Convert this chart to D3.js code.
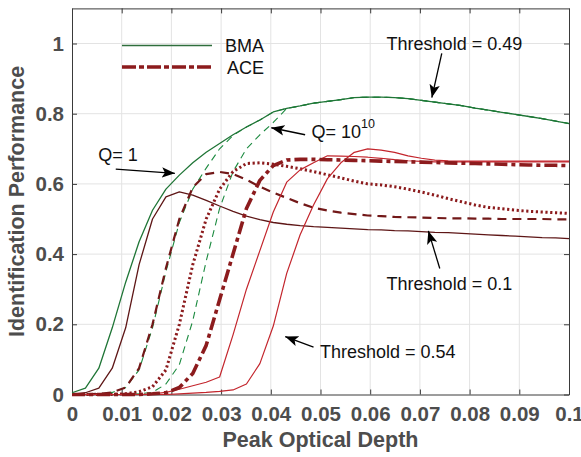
<!DOCTYPE html>
<html>
<head>
<meta charset="utf-8">
<script src="https://cdn.jsdelivr.net/npm/d3@7"></script>
<style>
  html, body { margin: 0; padding: 0; background: #fff; }
  svg { display: block; font-family: "Liberation Sans", Arial, Helvetica, sans-serif; }
</style>
</head>
<body>
<svg id="chart" width="581" height="457"></svg>
<script>
// Peak optical depth sample grid (shared by all curves)
const depth = [0, 0.0027, 0.0054, 0.0081, 0.0108, 0.0135, 0.0162, 0.0189, 0.0216, 0.0243,
  0.0270, 0.0297, 0.0324, 0.0351, 0.0378, 0.0405, 0.0432, 0.0459, 0.0486, 0.0514,
  0.0541, 0.0568, 0.0595, 0.0622, 0.0649, 0.0676, 0.0703, 0.0730, 0.0757, 0.0784,
  0.0811, 0.0838, 0.0865, 0.0892, 0.0919, 0.0946, 0.0973, 0.1];

// BMA, Q = 1 (threshold 0.49)
const bmaQ1 = [0.005, 0.018, 0.075, 0.19, 0.32, 0.435, 0.525, 0.585, 0.625, 0.66,
  0.69, 0.715, 0.74, 0.762, 0.782, 0.805, 0.815, 0.822, 0.83, 0.835,
  0.84, 0.846, 0.847, 0.847, 0.846, 0.843, 0.838, 0.833, 0.828, 0.823,
  0.816, 0.81, 0.804, 0.798, 0.792, 0.786, 0.779, 0.772];

// BMA, intermediate Q
const bmaQmid = [0, 0, 0.002, 0.006, 0.02, 0.07, 0.19, 0.35, 0.49, 0.585,
  0.645, 0.7, 0.738, 0.762, 0.782, 0.805, 0.815, 0.822, 0.83, 0.835,
  0.84, 0.846, 0.847, 0.847, 0.846, 0.843, 0.838, 0.833, 0.828, 0.823,
  0.816, 0.81, 0.804, 0.798, 0.792, 0.786, 0.779, 0.772];

// BMA, Q = 10^10
const bmaQ1e10 = [0, 0, 0, 0, 0, 0.002, 0.006, 0.03, 0.085, 0.21,
  0.38, 0.53, 0.635, 0.70, 0.74, 0.775, 0.815, 0.822, 0.83, 0.835,
  0.84, 0.846, 0.847, 0.847, 0.846, 0.843, 0.838, 0.833, 0.828, 0.823,
  0.816, 0.81, 0.804, 0.798, 0.792, 0.786, 0.779, 0.772];

// ACE, threshold 0.1
const aceT010 = [0, 0.005, 0.018, 0.075, 0.19, 0.37, 0.50, 0.563, 0.577, 0.568,
  0.553, 0.537, 0.522, 0.508, 0.498, 0.49, 0.485, 0.481, 0.478, 0.476,
  0.474, 0.472, 0.47, 0.469, 0.467, 0.466, 0.464, 0.462, 0.461, 0.459,
  0.457, 0.455, 0.453, 0.451, 0.449, 0.447, 0.446, 0.444];

// ACE, dashed
const aceDashed = [0, 0, 0.002, 0.006, 0.02, 0.075, 0.2, 0.36, 0.5, 0.59,
  0.628, 0.634, 0.628, 0.612, 0.592, 0.575, 0.56, 0.545, 0.532, 0.524,
  0.518, 0.514, 0.51, 0.508, 0.506, 0.505, 0.504, 0.503, 0.502, 0.502,
  0.501, 0.501, 0.5, 0.5, 0.5, 0.5, 0.499, 0.499];

// ACE, dotted
const aceDotted = [0, 0, 0, 0, 0.002, 0.008, 0.022, 0.07, 0.2, 0.37,
  0.5, 0.585, 0.635, 0.658, 0.66, 0.656, 0.65, 0.643, 0.635, 0.626,
  0.617, 0.608, 0.6, 0.597, 0.592, 0.585, 0.577, 0.568, 0.558, 0.549,
  0.54, 0.533, 0.529, 0.525, 0.522, 0.52, 0.518, 0.516];

// ACE, dash-dot (legend entry)
const aceMain = [0, 0, 0, 0, 0, 0, 0.002, 0.005, 0.02, 0.06,
  0.14, 0.27, 0.40, 0.53, 0.61, 0.652, 0.668, 0.67, 0.67, 0.669,
  0.668, 0.667, 0.666, 0.665, 0.664, 0.663, 0.662, 0.661, 0.66, 0.659,
  0.658, 0.657, 0.656, 0.655, 0.654, 0.653, 0.653, 0.652];

// ACE, solid red (earlier)
const aceRed1 = [0, 0, 0, 0, 0, 0, 0.002, 0.006, 0.015, 0.025,
  0.035, 0.05, 0.17, 0.30, 0.41, 0.52, 0.605, 0.64, 0.66, 0.68,
  0.679, 0.678, 0.676, 0.673, 0.669, 0.666, 0.664, 0.663, 0.663, 0.663,
  0.663, 0.663, 0.663, 0.663, 0.663, 0.663, 0.663, 0.663];

// ACE, threshold 0.54
const aceT054 = [0, 0, 0, 0, 0, 0, 0, 0, 0.002, 0.004,
  0.006, 0.009, 0.013, 0.03, 0.088, 0.195, 0.345, 0.455, 0.54, 0.615,
  0.66, 0.69, 0.70, 0.696, 0.69, 0.68, 0.673, 0.668, 0.666, 0.665,
  0.665, 0.665, 0.665, 0.665, 0.665, 0.665, 0.665, 0.665];

const xTicks = [0, 0.01, 0.02, 0.03, 0.04, 0.05, 0.06, 0.07, 0.08, 0.09, 0.1];
const xTickLabels = ["0", "0.01", "0.02", "0.03", "0.04", "0.05", "0.06", "0.07", "0.08", "0.09", "0.1"];
const yTicks = [0, 0.2, 0.4, 0.6, 0.8, 1];
const yTickLabels = ["0", "0.2", "0.4", "0.6", "0.8", "1"];

const legendLabels = ["BMA", "ACE"];

// annotation text and arrows, in data units
const notes = [
  { text: "Threshold = 0.49", x: 0.0633, y: 0.981, from: [0.0744, 0.972], to: [0.0724, 0.846] },
  { text: "Q= 10", sup: "10", x: 0.0482, y: 0.731, from: [0.0469, 0.740], to: [0.0401, 0.760] },
  { text: "Q= 1", x: 0.0053, y: 0.665, from: [0.0088, 0.642], to: [0.0207, 0.630] },
  { text: "Threshold = 0.1", x: 0.0633, y: 0.299, from: [0.0740, 0.359], to: [0.0717, 0.466] },
  { text: "Threshold = 0.54", x: 0.0499, y: 0.103, from: [0.0486, 0.135], to: [0.0429, 0.165] }
];

const svg = d3.select("#chart");
const plot = { left: 72, right: 569, top: 8.4, bottom: 394.5 };

const x = d3.scaleLinear().domain([0, 0.1]).range([plot.left, plot.right]);
const y = d3.scaleLinear().domain([0, 1.1]).range([plot.bottom, plot.top]);

const axisColor = "#3a3a3a";
const labelColor = "#4d4d4d";

// grid
const grid = svg.append("g");
grid.selectAll("line.vx").data(xTicks.slice(1, -1)).join("line")
  .attr("x1", d => x(d)).attr("x2", d => x(d))
  .attr("y1", plot.top).attr("y2", plot.bottom)
  .attr("stroke", "#e3e3e3").attr("stroke-width", 1);
grid.selectAll("line.hy").data(yTicks.slice(1)).join("line")
  .attr("x1", plot.left).attr("x2", plot.right)
  .attr("y1", d => y(d)).attr("y2", d => y(d))
  .attr("stroke", "#e3e3e3").attr("stroke-width", 1);

// axes with inward ticks on all four sides
const tickLen = 5;
const axB = d3.axisBottom(x).tickValues(xTicks).tickSizeInner(-tickLen).tickSizeOuter(0)
  .tickFormat((d, i) => xTickLabels[i]).tickPadding(12);
const axT = d3.axisTop(x).tickValues(xTicks).tickSizeInner(-tickLen).tickSizeOuter(0).tickFormat("");
const axL = d3.axisLeft(y).tickValues(yTicks).tickSizeInner(-tickLen).tickSizeOuter(0)
  .tickFormat((d, i) => yTickLabels[i]).tickPadding(8);
const axR = d3.axisRight(y).tickValues(yTicks).tickSizeInner(-tickLen).tickSizeOuter(0).tickFormat("");

function styleAxis(g) {
  g.select(".domain").attr("stroke", axisColor).attr("stroke-width", 1);
  g.selectAll(".tick line").attr("stroke", axisColor).attr("stroke-width", 1);
  g.selectAll(".tick text").attr("fill", labelColor)
    .style("font-size", "20.5px").style("font-weight", "bold")
    .style("font-family", "'Liberation Sans', Arial, Helvetica, sans-serif");
}

svg.append("g").attr("transform", `translate(0,${plot.bottom})`).call(axB).call(styleAxis);
svg.append("g").attr("transform", `translate(0,${plot.top})`).call(axT).call(styleAxis);
svg.append("g").attr("transform", `translate(${plot.left},0)`).call(axL).call(styleAxis);
svg.append("g").attr("transform", `translate(${plot.right},0)`).call(axR).call(styleAxis);

// curves
const line = d3.line().x((d, i) => x(depth[i])).y(d => y(d));
const curves = [
  { v: bmaQmid,   color: "#1b8a3f", w: 1.1, dash: "7,5" },
  { v: bmaQ1e10,  color: "#1b8a3f", w: 1.1, dash: "7,5" },
  { v: aceT010,   color: "#5e1616", w: 1.3, dash: null },
  { v: aceDashed, color: "#721818", w: 2.2, dash: "9,6" },
  { v: aceDotted, color: "#8c1b1d", w: 3, dash: "2.2,2.6" },
  { v: aceRed1,   color: "#c3252c", w: 1.2, dash: null },
  { v: aceT054,   color: "#c3252c", w: 1.2, dash: null },
  { v: aceMain,   color: "#8c1b1d", w: 3.6, dash: "13,4,4,4" },
  { v: bmaQ1,     color: "#1f7536", w: 1.3, dash: null }
];
svg.append("g").attr("fill", "none").selectAll("path").data(curves).join("path")
  .attr("d", d => line(d.v))
  .attr("stroke", d => d.color)
  .attr("stroke-width", d => d.w)
  .attr("stroke-dasharray", d => d.dash)
  .attr("stroke-linejoin", "round");

// legend
const legend = svg.append("g");
const legendStyles = [
  { color: "#2f6e3c", w: 1.6, dash: null },
  { color: "#8c1b1d", w: 3.6, dash: "14,3,5,3" }
];
legendLabels.forEach((lab, i) => {
  const ly = 45.5 + i * 21.5;
  legend.append("line").attr("x1", 122).attr("x2", 212).attr("y1", ly).attr("y2", ly)
    .attr("stroke", legendStyles[i].color).attr("stroke-width", legendStyles[i].w)
    .attr("stroke-dasharray", legendStyles[i].dash);
  legend.append("text").attr("x", i === 0 ? 225 : 227).attr("y", ly + 6.5)
    .attr("fill", "#111").style("font-size", "18px").text(lab);
});

// arrowhead
svg.append("defs").append("marker")
  .attr("id", "head").attr("markerUnits", "userSpaceOnUse")
  .attr("viewBox", "-13 -6 14 12").attr("refX", 0).attr("refY", 0)
  .attr("markerWidth", 14).attr("markerHeight", 12).attr("orient", "auto")
  .append("path").attr("d", "M0,0 L-13,-5.2 L-10,0 L-13,5.2 Z").attr("fill", "#000");

const ann = svg.append("g");
notes.forEach(n => {
  ann.append("line")
    .attr("x1", x(n.from[0])).attr("y1", y(n.from[1]))
    .attr("x2", x(n.to[0])).attr("y2", y(n.to[1]))
    .attr("stroke", "#000").attr("stroke-width", 1.3)
    .attr("marker-end", "url(#head)");
  const t = ann.append("text").attr("x", x(n.x)).attr("y", y(n.y))
    .attr("fill", "#111").style("font-size", "18px").text(n.text);
  if (n.sup) {
    t.append("tspan").attr("dy", -10).style("font-size", "12.5px").text(n.sup);
  }
});

// axis titles
svg.append("text").attr("x", (plot.left + plot.right) / 2).attr("y", 447)
  .attr("text-anchor", "middle").attr("fill", labelColor)
  .style("font-size", "21.5px").style("font-weight", "bold").text("Peak Optical Depth");
svg.append("text").attr("transform", `translate(24,${(plot.top + plot.bottom) / 2 + 0}) rotate(-90)`)
  .attr("text-anchor", "middle").attr("fill", labelColor)
  .style("font-size", "21.5px").style("font-weight", "bold").text("Identification Performance");
</script>
</body>
</html>
